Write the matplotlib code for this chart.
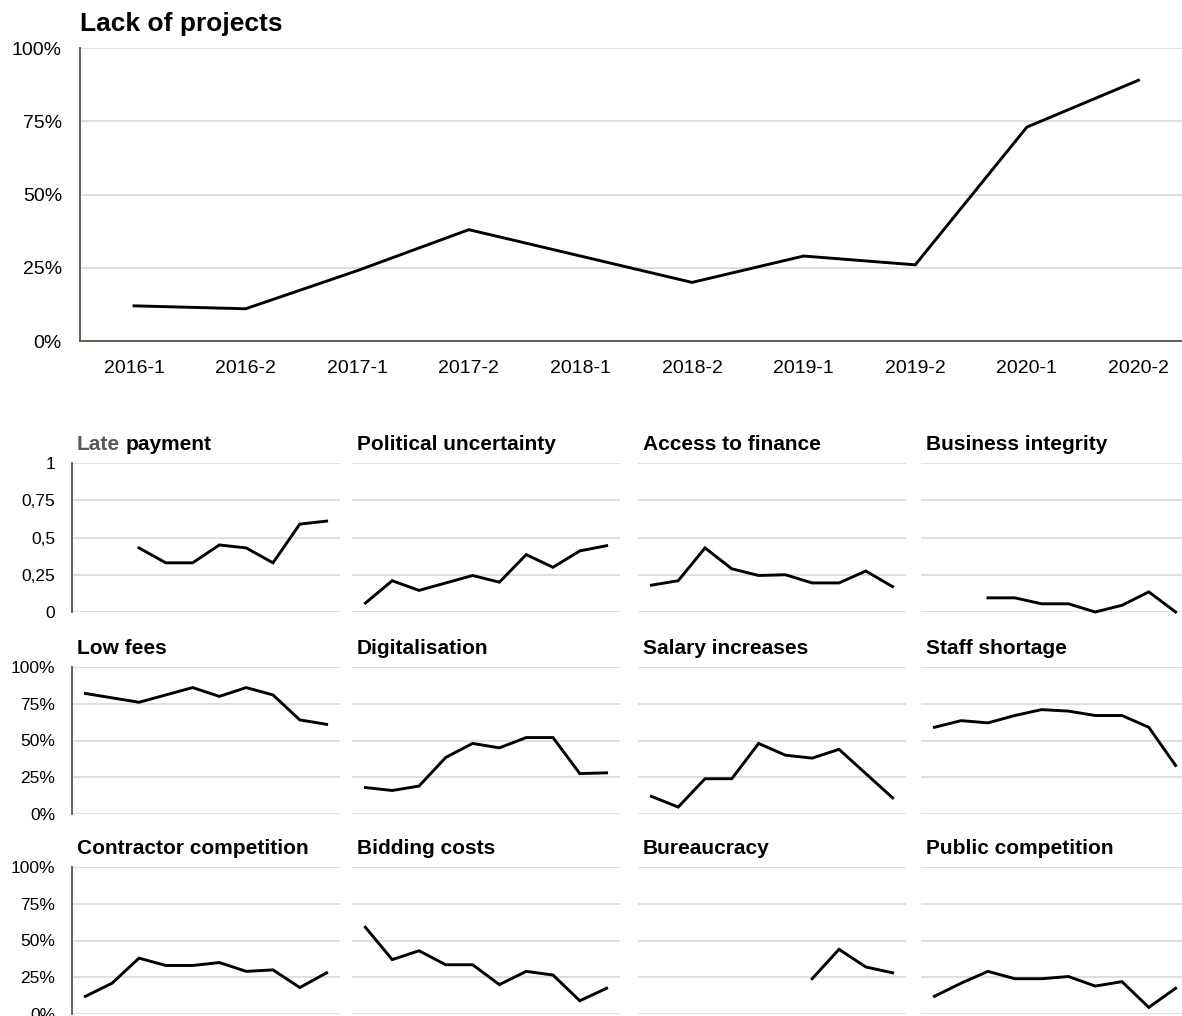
"""
Lack of projects + small multiples of other business obstacles.
"""

import matplotlib
matplotlib.use("Agg")
import matplotlib.pyplot as plt
import numpy as np

plt.rcParams["font.family"] = ["Liberation Sans", "DejaVu Sans"]

W, H = 1182, 1016

nan = np.nan

# --- data ---
PERIODS = ["2016-1", "2016-2", "2017-1", "2017-2", "2018-1",
           "2018-2", "2019-1", "2019-2", "2020-1", "2020-2"]
LACK_OF_PROJECTS = [0.12, 0.11, 0.24, 0.38, 0.29, 0.20, 0.29, 0.26, 0.73, 0.89]

LATE_PAYMENT = [nan, nan, 0.43, 0.33, 0.33, 0.45, 0.43, 0.33, 0.59, 0.61]
POLITICAL_UNCERTAINTY = [0.06, 0.21, 0.145, 0.195, 0.245, 0.20, 0.385, 0.30, 0.41, 0.445]
ACCESS_TO_FINANCE = [0.18, 0.21, 0.43, 0.29, 0.245, 0.25, 0.195, 0.195, 0.275, 0.17]
BUSINESS_INTEGRITY = [nan, nan, 0.095, 0.095, 0.055, 0.055, 0.0, 0.045, 0.135, 0.0]

LOW_FEES = [0.82, 0.79, 0.76, 0.81, 0.86, 0.80, 0.86, 0.81, 0.64, 0.61]
DIGITALISATION = [0.18, 0.16, 0.19, 0.385, 0.48, 0.45, 0.52, 0.52, 0.275, 0.28]
SALARY_INCREASES = [0.12, 0.047, 0.24, 0.24, 0.48, 0.40, 0.38, 0.44, 0.275, 0.11]
STAFF_SHORTAGE = [0.59, 0.635, 0.62, 0.67, 0.71, 0.70, 0.67, 0.67, 0.59, 0.33]

CONTRACTOR_COMPETITION = [0.12, 0.21, 0.38, 0.33, 0.33, 0.35, 0.29, 0.30, 0.18, 0.28]
BIDDING_COSTS = [0.59, 0.37, 0.43, 0.335, 0.335, 0.20, 0.29, 0.265, 0.09, 0.175]
BUREAUCRACY = [nan, nan, nan, nan, nan, nan, 0.24, 0.44, 0.32, 0.28]
PUBLIC_COMPETITION = [0.12, 0.21, 0.29, 0.24, 0.24, 0.255, 0.19, 0.22, 0.045, 0.175]

PANEL_TITLES = [
    ["Late payment", "Political uncertainty", "Access to finance", "Business integrity"],
    ["Low fees", "Digitalisation", "Salary increases", "Staff shortage"],
    ["Contractor competition", "Bidding costs", "Bureaucracy", "Public competition"],
]
PANEL_SERIES = [
    [LATE_PAYMENT, POLITICAL_UNCERTAINTY, ACCESS_TO_FINANCE, BUSINESS_INTEGRITY],
    [LOW_FEES, DIGITALISATION, SALARY_INCREASES, STAFF_SHORTAGE],
    [CONTRACTOR_COMPETITION, BIDDING_COSTS, BUREAUCRACY, PUBLIC_COMPETITION],
]

Y_TICKS = [0, 0.25, 0.5, 0.75, 1.0]
PCT_LABELS = ["0%", "25%", "50%", "75%", "100%"]
DEC_LABELS = ["0", "0,25", "0,5", "0,75", "1"]

# --- style ---
GRID = "#d9d9d9"
SPINE = "#5a5444"
LINE = "#000000"
GREY_TXT = "#595959"


def _rect(x0, y0, x1, y1):
    return [x0 / W, 1 - y1 / H, (x1 - x0) / W, (y1 - y0) / H]


def _base(ax):
    for s in ax.spines.values():
        s.set_visible(False)
    ax.set_ylim(0, 1)
    ax.set_yticks(Y_TICKS)
    ax.grid(axis="y", color=GRID, lw=1.2)
    ax.set_axisbelow(True)
    ax.tick_params(length=0)


fig = plt.figure(figsize=(W / 100, H / 100), dpi=100)
fig.patch.set_facecolor("white")

# ── Top chart ──
x = np.arange(len(PERIODS))
ax = fig.add_axes(_rect(80, 48, 1182, 341))
_base(ax)
ax.plot(x, LACK_OF_PROJECTS, color=LINE, lw=2.1, solid_joinstyle="miter", clip_on=False)
ax.set_xlim(-0.484, 9.39)
ax.set_xticks(x)
ax.set_xticklabels(PERIODS, fontsize=14)
ax.set_yticklabels(PCT_LABELS, fontsize=14)
ax.tick_params(axis="x", pad=14)
ax.tick_params(axis="y", pad=13)
for side in ("left", "bottom"):
    ax.spines[side].set_visible(True)
    ax.spines[side].set_color(SPINE)
    ax.spines[side].set_linewidth(1.3)
fig.text(80 / W, 1 - 24 / H, "Lack of projects", fontsize=19, fontweight="bold",
         ha="left", va="center")

# ── Small multiples ──
col_left = [72, 352, 638, 921]
row_y = [(463, 612), (667, 814), (867, 1014)]

for r in range(3):
    for c in range(4):
        y0, y1 = row_y[r]
        x0 = col_left[c]
        ax = fig.add_axes(_rect(x0, y0, x0 + 268, y1))
        _base(ax)
        ax.plot(x, PANEL_SERIES[r][c], color=LINE, lw=2.1, solid_joinstyle="miter",
                clip_on=False)
        ax.set_xlim(-0.5, 9.5)
        ax.set_xticks([])
        if c == 0:
            ax.set_yticklabels(DEC_LABELS if r == 0 else PCT_LABELS, fontsize=12.5)
            ax.tick_params(axis="y", pad=12)
            ax.spines["left"].set_visible(True)
            ax.spines["left"].set_color(SPINE)
            ax.spines["left"].set_linewidth(1.3)
        else:
            ax.set_yticklabels([])

        title = PANEL_TITLES[r][c]
        tx, ty = (x0 + 5) / W, 1 - (y0 - 18) / H
        if title == "Late payment":
            # first word is greyed out in the source
            t = fig.text(tx, ty, "Late", fontsize=15, fontweight="bold",
                         color=GREY_TXT, ha="left", va="center")
            ax.annotate("payment", xy=(1, 0.5), xycoords=t, xytext=(4, 0),
                        textcoords="offset points", fontsize=15, fontweight="bold",
                        ha="left", va="center", annotation_clip=False)
        else:
            fig.text(tx, ty, title, fontsize=15, fontweight="bold",
                     ha="left", va="center")

fig.savefig("out.png", dpi=100)
plt.close(fig)
